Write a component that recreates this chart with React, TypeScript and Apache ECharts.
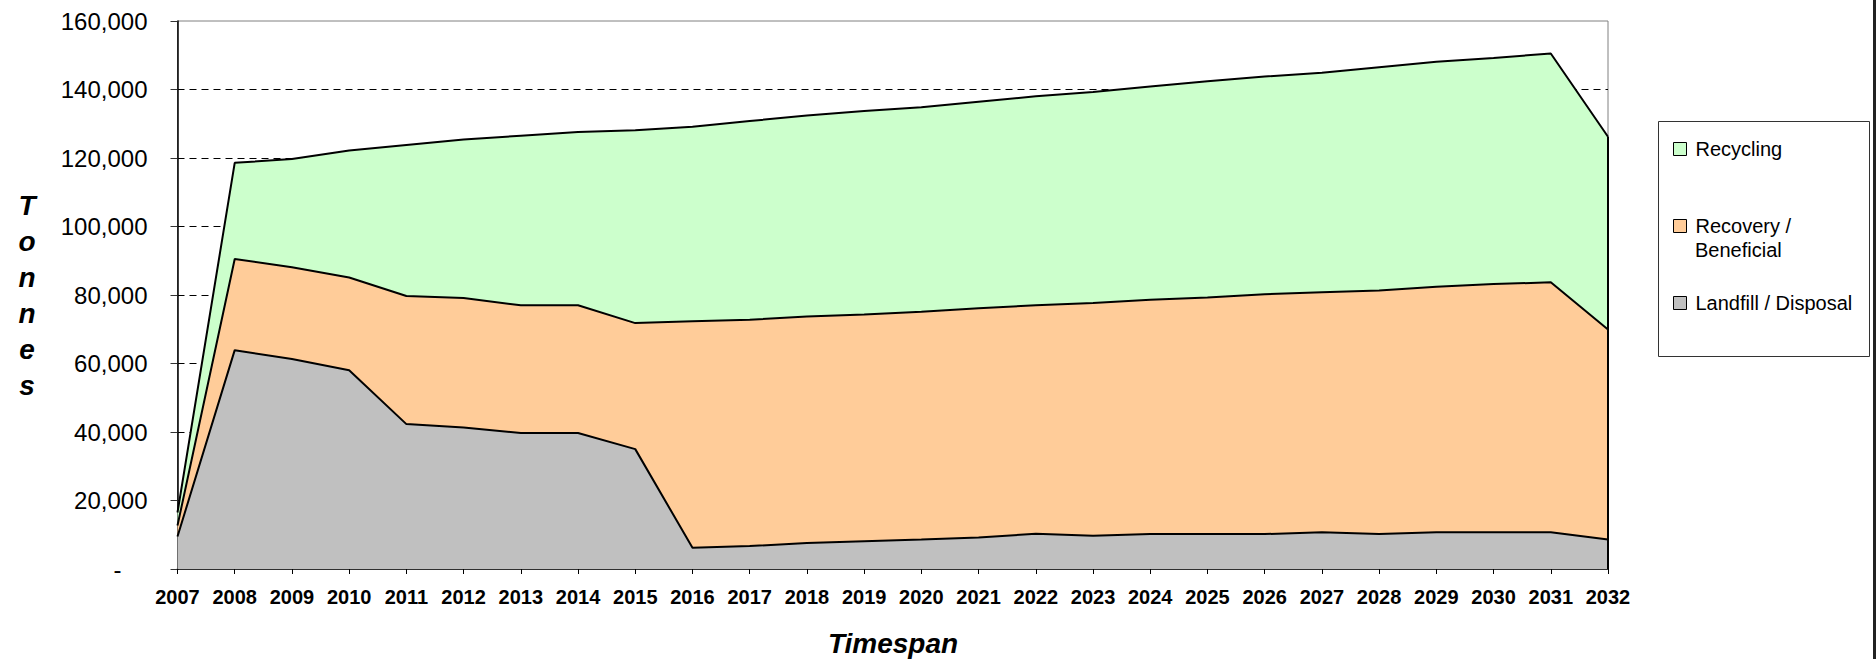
import React, { useEffect, useRef } from 'react';
import * as echarts from 'echarts';

const years = [
  '2007', '2008', '2009', '2010', '2011', '2012', '2013', '2014', '2015', '2016', '2017', '2018', '2019',
  '2020', '2021', '2022', '2023', '2024', '2025', '2026', '2027', '2028', '2029', '2030', '2031', '2032',
];

const landfill = [
  9500, 63900, 61300, 58000, 42300, 41300, 39700, 39700, 35000, 6200, 6700, 7600, 8100,
  8600, 9200, 10300, 9700, 10200, 10200, 10200, 10700, 10200, 10700, 10700, 10700, 8600,
];

const recovery = [
  3200, 26600, 26800, 27100, 37400, 37800, 37300, 37300, 36800, 66100, 66100, 66100, 66200,
  66500, 66900, 66700, 68000, 68400, 69100, 70000, 70100, 71100, 71700, 72500, 73000, 61300,
];

const recycling = [
  3800, 28100, 31600, 37100, 44100, 46300, 49500, 50600, 56300, 56800, 58000, 58700, 59400,
  59700, 60300, 61000, 61600, 62300, 63100, 63600, 64100, 65200, 65700, 66000, 66800, 56300,
];

const seriesNames = ['Landfill / Disposal', 'Recovery / Beneficial', 'Recycling'];
const seriesColors = ['#C0C0C0', '#FFCC99', '#CCFFCC'];
const legendOrder = ['Recycling', 'Recovery / Beneficial', 'Landfill / Disposal'];

const FONT = '"Liberation Sans", Arial, Helvetica, sans-serif';

export default function App() {
  const ref = useRef<HTMLDivElement>(null);

  useEffect(() => {
    if (!ref.current) return;
    const chart = echarts.init(ref.current, null, { renderer: 'svg' });
    const last = years.length - 1;
    const lastTotal = landfill[last] + recovery[last] + recycling[last];
    const datasets = [landfill, recovery, recycling];

    const series: any[] = datasets.map((data, i) => ({
      name: seriesNames[i],
      type: 'line',
      stack: 'total',
      data,
      symbol: 'none',
      showSymbol: false,
      silent: true,
      lineStyle: { color: '#000', width: 2 },
      areaStyle: { color: seriesColors[i], opacity: 1 },
      itemStyle: { color: seriesColors[i], borderColor: '#000', borderWidth: 1 },
      emphasis: { disabled: true },
    }));

    series[2].markLine = {
      silent: true,
      symbol: 'none',
      label: { show: false },
      lineStyle: { color: '#000', width: 2, type: 'solid' },
      data: [[{ coord: [years[last], 0] }, { coord: [years[last], lastTotal] }]],
    };

    chart.setOption({
      animation: false,
      backgroundColor: '#fff',
      grid: {
        left: 177.5,
        right: 268,
        top: 21,
        bottom: 90,
        show: true,
        borderColor: '#808080',
        borderWidth: 1,
        backgroundColor: 'transparent',
      },
      legend: {
        orient: 'vertical',
        left: 1673,
        top: 139,
        padding: 0,
        itemGap: 57,
        itemWidth: 13,
        itemHeight: 13,
        icon: 'rect',
        selectedMode: false,
        data: legendOrder,
        formatter: (n: string) => (n === 'Recovery / Beneficial' ? 'Recovery /' : n),
        textStyle: { fontFamily: FONT, fontSize: 20, color: '#000', padding: [0, 0, 0, 4] },
        itemStyle: { borderColor: '#000', borderWidth: 1 },
      },
      xAxis: {
        type: 'category',
        data: years,
        boundaryGap: false,
        axisLine: { show: true, lineStyle: { color: '#000', width: 1.5 } },
        axisTick: { show: true, length: 5, lineStyle: { color: '#000' } },
        axisLabel: {
          interval: 0,
          margin: 18,
          fontFamily: FONT,
          fontWeight: 'bold',
          fontSize: 20,
          color: '#000',
        },
        splitLine: { show: false },
      },
      yAxis: {
        type: 'value',
        min: 0,
        max: 160000,
        interval: 20000,
        axisLine: { show: true, lineStyle: { color: '#000', width: 1.5 } },
        axisTick: { show: true, length: 7, lineStyle: { color: '#333' } },
        splitLine: {
          show: true,
          showMinLine: false,
          showMaxLine: false,
          lineStyle: { color: '#000', type: [7, 5], width: 1 },
        },
        axisLabel: {
          margin: 30,
          fontFamily: FONT,
          fontSize: 24,
          color: '#000',
          formatter: (v: number) => (v === 0 ? '{z|-}' : v.toLocaleString('en-US')),
          rich: { z: { fontFamily: FONT, fontSize: 24, color: '#000', padding: [0, 26, 0, 0] } },
        },
      },
      graphic: [
        {
          type: 'rect',
          silent: true,
          shape: { x: 1658.5, y: 121.5, width: 211, height: 235 },
          style: { fill: 'none', stroke: '#333', lineWidth: 1 },
        },
        {
          type: 'text',
          silent: true,
          x: 1695,
          y: 250,
          style: {
            text: 'Beneficial',
            fontFamily: FONT,
            fontSize: 20,
            fill: '#000',
            textAlign: 'left',
            textVerticalAlign: 'middle',
          },
        },
        {
          type: 'text',
          silent: true,
          x: 27,
          y: 295,
          style: {
            text: 'T\no\nn\nn\ne\ns',
            fontFamily: FONT,
            fontSize: 28,
            fontWeight: 'bold',
            fontStyle: 'italic',
            lineHeight: 36,
            fill: '#000',
            textAlign: 'center',
            textVerticalAlign: 'middle',
          },
        },
        {
          type: 'text',
          silent: true,
          x: 893,
          y: 643,
          style: {
            text: 'Timespan',
            fontFamily: FONT,
            fontSize: 28,
            fontWeight: 'bold',
            fontStyle: 'italic',
            fill: '#000',
            textAlign: 'center',
            textVerticalAlign: 'middle',
          },
        },
        {
          type: 'rect',
          silent: true,
          shape: { x: 1873, y: 0, width: 3, height: 659 },
          style: { fill: '#222' },
        },
      ],
      series,
    });

    return () => chart.dispose();
  }, []);

  return (
    <div
      ref={ref}
      style={{ position: 'absolute', left: 0, top: 0, width: 1876, height: 659, background: '#fff' }}
    />
  );
}
